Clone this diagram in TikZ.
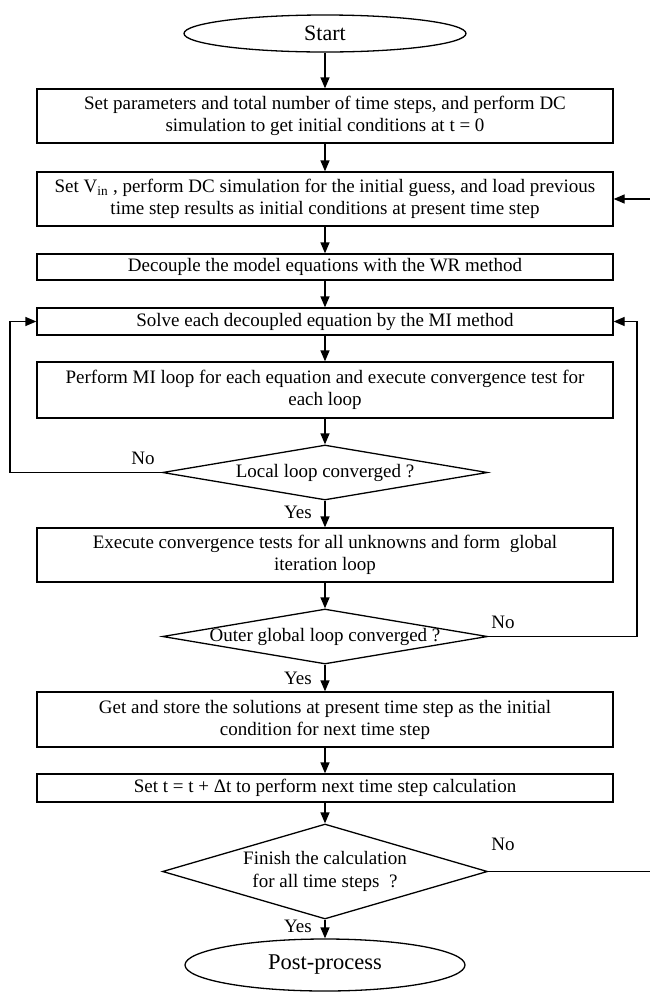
\documentclass[tikz,border=0pt]{standalone}
\usepackage{fontspec}
\setmainfont{Liberation Serif}
\usetikzlibrary{shapes.geometric,arrows.meta}
\begin{document}
\begin{tikzpicture}[x=1pt,y=-1pt,
  box/.style={draw, line width=1.3pt, minimum width=576pt, inner sep=0pt, align=center, font=\fontsize{19}{22}\selectfont},
  dia/.style={draw, diamond, line width=1.3pt, inner sep=0pt, minimum width=325pt},
  term/.style={draw, ellipse, line width=1.3pt, inner sep=0pt},
  txt/.style={inner sep=0pt, align=center, font=\fontsize{19}{23}\selectfont},
  lab/.style={inner sep=0pt, font=\fontsize{19}{22}\selectfont},
  arr/.style={line width=1.3pt, -{Triangle[length=11pt,width=9pt]}},
  ln/.style={line width=1.3pt}
]
\useasboundingbox (0,0) rectangle (649,994);
\coordinate (lx) at (10,0);
\coordinate (rx) at (637,0);
\coordinate (redge) at (652,0);

\node[term, minimum width=282pt, minimum height=37pt, font=\fontsize{22}{26}\selectfont] (start) at (325,33.5) {Start};
\node[box, minimum height=54pt] (b1) at (325,116) {Set parameters and total number of time steps, and perform DC\\simulation to get initial conditions at t = 0};
\node[box, minimum height=54pt] (b2) at (325,199) {Set V\textsubscript{in} , perform DC simulation for the initial guess, and load previous\\time step results as initial conditions at present time step};
\node[box, minimum height=26pt] (b3) at (325,267) {Decouple the model equations with the WR method};
\node[box, minimum height=27pt] (b4) at (325,321.5) {Solve each decoupled equation by the MI method};
\node[box, minimum height=56pt] (b5) at (325,390) {Perform MI loop for each equation and execute convergence test for\\each loop};
\node[dia, minimum height=55pt] (d1) at (325,472.5) {};
\node[txt] (t1) at (d1) {Local loop converged ?};
\node[box, minimum height=54pt] (b6) at (325,555) {Execute convergence tests for all unknowns and form\ \ global\\iteration loop};
\node[dia, minimum height=55pt] (d2) at (325,636.5) {};
\node[txt] (t2) at (d2) {Outer global loop converged ?};
\node[box, minimum height=55pt] (b7) at (325,719.5) {Get and store the solutions at present time step as the initial\\condition for next time step};
\node[box, minimum height=28pt] (b8) at (325,788) {Set t = t + Δt to perform next time step calculation};
\node[dia, minimum height=95pt] (d3) at (325,871.5) {};
\node[txt] (t3) at (d3) {Finish the calculation\\for all time steps\ \ ?};
\node[term, minimum width=280pt, minimum height=52pt, font=\fontsize{22.5}{27}\selectfont] (post) at (325,965) {Post-process};

\draw[arr] (start) -- (b1);
\draw[arr] (b1) -- (b2);
\draw[arr] (b2) -- (b3);
\draw[arr] (b3) -- (b4);
\draw[arr] (b4) -- (b5);
\draw[arr] (b5) -- (d1);
\draw[arr] (d1) -- (b6);
\draw[arr] (b6) -- (d2);
\draw[arr] (d2) -- (b7);
\draw[arr] (b7) -- (b8);
\draw[arr] (b8) -- (d3);
\draw[arr] (d3) -- (post);

\draw[arr] (d1.west) -- (d1.west -| lx) |- (b4.west);
\draw[arr] (d2.east) -- (d2.east -| rx) |- (b4.east);
\draw[ln] (d3.east) -- (d3.east -| redge);
\draw[arr] (b2.east -| redge) -- (b2.east);

\node[lab] (no1) at (143,458) {No};
\node[lab] (no2) at (503,622) {No};
\node[lab] (no3) at (503,844) {No};
\node[lab] (y1) at (298,512) {Yes};
\node[lab] (y2) at (298,678) {Yes};
\node[lab] (y3) at (298,926) {Yes};
\end{tikzpicture}
\end{document}
